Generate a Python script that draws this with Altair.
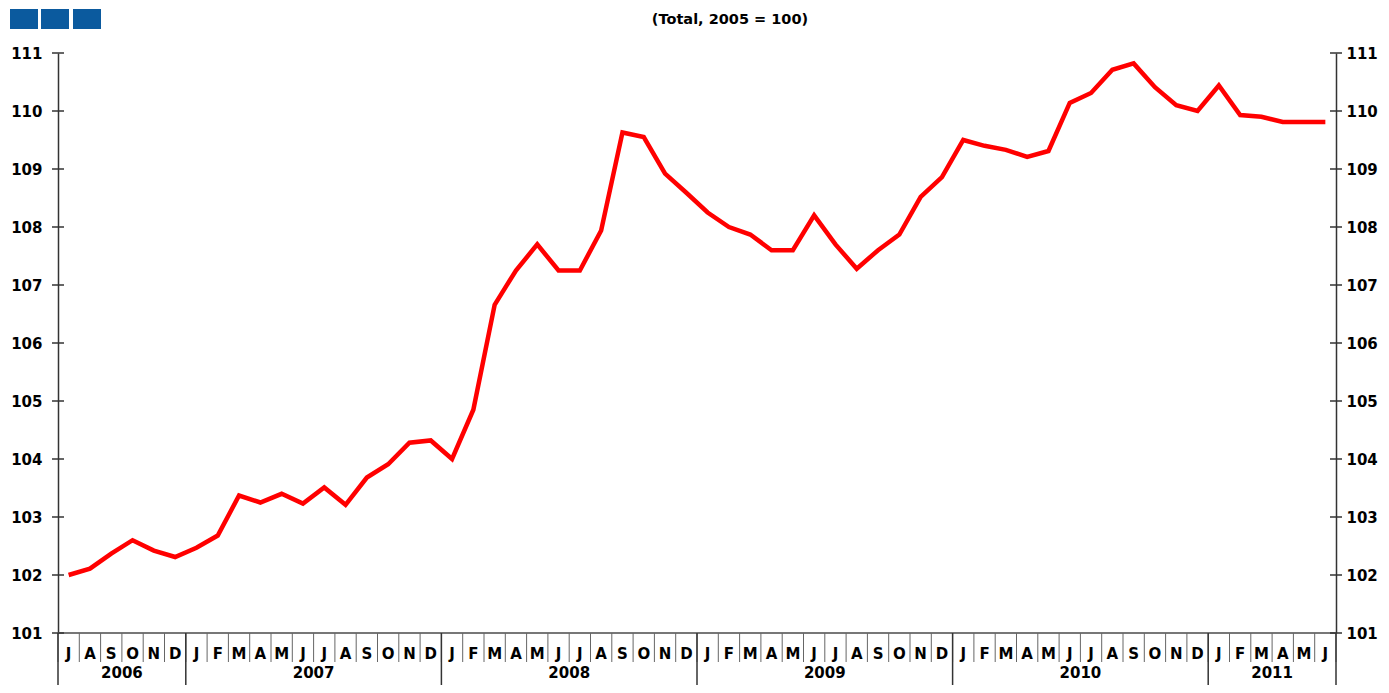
import altair as alt
import pandas as pd

# ---- data ----
years = ["2006", "2007", "2008", "2009", "2010", "2011"]
months_per_year = [6, 12, 12, 12, 12, 6]
month_letters = (
    ["J", "A", "S", "O", "N", "D"]
    + ["J", "F", "M", "A", "M", "J", "J", "A", "S", "O", "N", "D"]
    + ["J", "F", "M", "A", "M", "J", "J", "A", "S", "O", "N", "D"]
    + ["J", "F", "M", "A", "M", "J", "J", "A", "S", "O", "N", "D"]
    + ["J", "F", "M", "A", "M", "J", "J", "A", "S", "O", "N", "D"]
    + ["J", "F", "M", "A", "M", "J"]
)
values = [
    102.00, 102.11, 102.37, 102.60, 102.42, 102.31,
    102.47, 102.68, 103.37, 103.25, 103.40, 103.23, 103.51, 103.21, 103.68, 103.91, 104.28, 104.32,
    104.00, 104.85, 106.66, 107.25, 107.70, 107.25, 107.25, 107.94, 109.63, 109.55, 108.92, 108.59,
    108.25, 108.00, 107.87, 107.60, 107.60, 108.20, 107.70, 107.28, 107.60, 107.87, 108.52, 108.86,
    109.50, 109.40, 109.33, 109.21, 109.31, 110.14, 110.31, 110.71, 110.82, 110.41, 110.10, 110.00,
    110.44, 109.93, 109.90, 109.81, 109.81, 109.81,
]
y_ticks = [101, 102, 103, 104, 105, 106, 107, 108, 109, 110, 111]
title_text = "(Total, 2005 = 100)"

# ---- layout ----
W, H = 1278, 580
PAD_L, PAD_T, PAD_R, PAD_B = 50, 45, 45, 52
FONT = "DejaVu Sans"
n = len(values)

df = pd.DataFrame({"i": list(range(n)), "m": month_letters, "v": values})
df["x"] = df["i"] + 0.5

bounds = pd.DataFrame({"b": list(range(n + 1))})

starts, s = [], 0
for k in months_per_year:
    starts.append(s)
    s += k
ydf = pd.DataFrame({"year": years, "start": starts, "n": months_per_year})
ydf["end"] = ydf["start"] + ydf["n"]
ydf["c"] = (ydf["start"] + ydf["end"]) / 2
ysep = pd.DataFrame({"b": [0] + list(ydf["end"])})

tick_df = pd.DataFrame({"t": y_ticks})

xscale = alt.Scale(domain=[0, n], nice=False, zero=False)
yscale = alt.Scale(domain=[101, 111], nice=False, zero=False)


def yaxis(orient, pad):
    return alt.Axis(
        orient=orient, values=y_ticks, ticks=False, tickSize=0, labelPadding=pad,
        labelFont=FONT, labelFontSize=15, labelFontWeight="bold", labelColor="#000",
        domainColor="#333", domainWidth=1.5, grid=False, title=None,
    )


line = alt.Chart(df).mark_line(color="#ff0000", strokeWidth=4.5).encode(
    x=alt.X("x:Q", scale=xscale, axis=None),
    y=alt.Y("v:Q", scale=yscale, axis=None),
)

left_ticks = alt.Chart(tick_df).mark_rule(color="#333", strokeWidth=1.5).encode(
    x=alt.value(-6), x2=alt.value(6),
    y=alt.Y("t:Q", scale=yscale, axis=yaxis("left", 16)),
)
right_ticks = alt.Chart(tick_df).mark_rule(color="#333", strokeWidth=1.5).encode(
    x=alt.value(W - 6), x2=alt.value(W + 6),
    y=alt.Y("t:Q", scale=yscale, axis=yaxis("right", 10)),
)

bottom_line = alt.Chart(tick_df).mark_rule(color="#777", strokeWidth=1.5).encode(
    x=alt.value(0), x2=alt.value(W), y=alt.value(H)
)

month_sep = alt.Chart(bounds).mark_rule(color="#666", strokeWidth=1).encode(
    x=alt.X("b:Q", scale=xscale, axis=None), y=alt.value(H), y2=alt.value(H + 29)
)
year_sep = alt.Chart(ysep).mark_rule(color="#333", strokeWidth=1.5).encode(
    x=alt.X("b:Q", scale=xscale, axis=None), y=alt.value(H), y2=alt.value(H + PAD_B)
)

month_text = alt.Chart(df).mark_text(
    font=FONT, fontSize=15, fontWeight="bold", color="#000", baseline="middle", align="center"
).encode(x=alt.X("x:Q", scale=xscale, axis=None), y=alt.value(H + 21), text="m:N")

year_text = alt.Chart(ydf).mark_text(
    font=FONT, fontSize=15, fontWeight="bold", color="#000", baseline="middle", align="center"
).encode(x=alt.X("c:Q", scale=xscale, axis=None), y=alt.value(H + 40), text="year:N")

title = alt.Chart(tick_df.head(1)).mark_text(
    font=FONT, fontSize=14.5, fontWeight="bold", color="#000", baseline="middle", align="center"
).encode(x=alt.value(730 - 8 - PAD_L), y=alt.value(20 - 8 - PAD_T), text=alt.value(title_text))

logo_layers = []
for x0 in [10, 41, 73]:
    logo_layers.append(
        alt.Chart(tick_df.head(1)).mark_rect(color="#0b5a9e").encode(
            x=alt.value(x0 - 8 - PAD_L), x2=alt.value(x0 + 28 - 8 - PAD_L),
            y=alt.value(9 - 8 - PAD_T), y2=alt.value(29 - 8 - PAD_T)
        )
    )

chart = alt.layer(
    *logo_layers, title, bottom_line, month_sep, year_sep, month_text, year_text,
    left_ticks, right_ticks, line,
).resolve_axis(y="independent").properties(
    width=W, height=H,
    autosize="none",
    padding={"left": PAD_L, "top": PAD_T, "right": PAD_R, "bottom": PAD_B},
    background="white",
).configure_view(stroke=None)

chart.save("out.html", embed_options={"renderer": "svg", "actions": False})
